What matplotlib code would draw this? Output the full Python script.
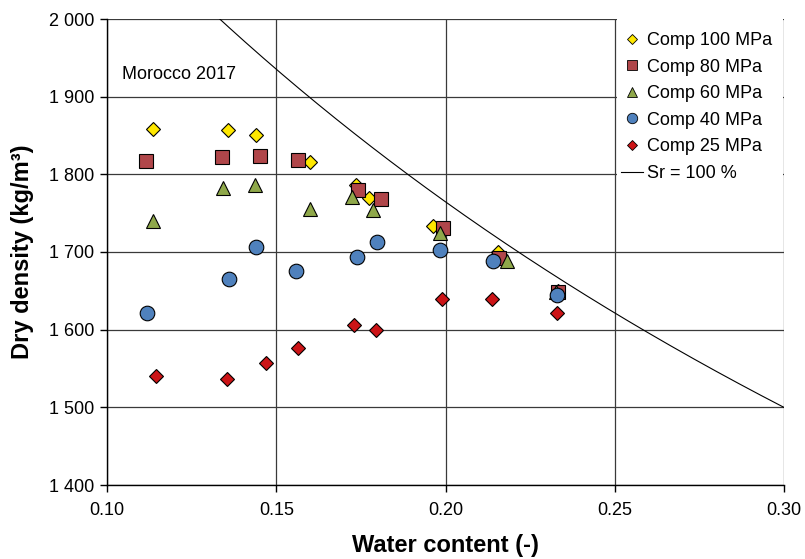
import matplotlib
matplotlib.use("Agg")
import matplotlib.pyplot as plt
from matplotlib.lines import Line2D
from matplotlib.patches import Rectangle
from matplotlib.ticker import FuncFormatter, FixedLocator
import numpy as np

plt.rcParams['font.family'] = ['Liberation Sans', 'DejaVu Sans']

# ---- data ----
w100 = [0.1137, 0.1357, 0.1440, 0.1601, 0.1737, 0.1773, 0.1964, 0.2155, 0.2331]
d100 = [1858, 1857, 1851, 1816, 1786, 1770, 1733, 1700, 1650]

w80 = [0.1114, 0.1341, 0.1453, 0.1564, 0.1742, 0.1808, 0.1992, 0.2158, 0.2331]
d80 = [1817, 1822, 1824, 1818, 1780, 1768, 1731, 1692, 1648]

w60 = [0.1135, 0.1343, 0.1438, 0.1599, 0.1724, 0.1785, 0.1983, 0.2183, 0.2325]
d60 = [1740, 1783, 1786, 1755, 1771, 1754, 1725, 1688, 1648]

w40 = [0.1118, 0.1361, 0.1439, 0.1558, 0.1739, 0.1797, 0.1983, 0.2140, 0.2330]
d40 = [1621, 1665, 1706, 1675, 1693, 1713, 1703, 1688, 1644]

w25 = [0.1144, 0.1354, 0.1470, 0.1564, 0.1731, 0.1796, 0.1990, 0.2138, 0.2330]
d25 = [1540, 1536, 1557, 1576, 1606, 1600, 1640, 1639, 1622]

rho_s = 2727.0   # particle density (kg/m3) for saturation line
rho_w = 1000.0

x_ticks = [0.10, 0.15, 0.20, 0.25, 0.30]
y_ticks = [1400, 1500, 1600, 1700, 1800, 1900, 2000]

series_labels = ["Comp 100 MPa", "Comp 80 MPa", "Comp 60 MPa", "Comp 40 MPa", "Comp 25 MPa"]
sr_label = "Sr = 100 %"

# ---- figure ----
W, H = 805, 559
fig = plt.figure(figsize=(W / 100, H / 100), dpi=100)
L, R, T, B = 107, 784, 19, 485
ax = fig.add_axes([L / W, (H - B) / H, (R - L) / W, (B - T) / H])

ax.set_xlim(0.10, 0.30)
ax.set_ylim(1400, 2000)
ax.xaxis.set_major_locator(FixedLocator(x_ticks))
ax.yaxis.set_major_locator(FixedLocator(y_ticks))
ax.xaxis.set_major_formatter(FuncFormatter(lambda v, p: f"{v:.2f}"))
ax.yaxis.set_major_formatter(FuncFormatter(lambda v, p: f"{int(round(v)):,}".replace(",", " ")))

ax.set_axisbelow(True)
ax.grid(True, color='#3a3a3a', linewidth=0.9, zorder=0)
for s in ['top', 'right']:
    ax.spines[s].set_visible(False)
for s in ['left', 'bottom']:
    ax.spines[s].set_color('black')
    ax.spines[s].set_linewidth(1.0)

ax.tick_params(axis='both', direction='out', length=5, width=1.0, labelsize=13, color='black')
ax.tick_params(axis='y', pad=4)
ax.tick_params(axis='x', pad=7)

# white area behind legend
ax.add_patch(Rectangle((0.7533, 0.60), 0.2452, 0.40, transform=ax.transAxes,
                       facecolor='white', edgecolor='none', zorder=1))

# saturation line
wl = np.linspace(0.10, 0.30, 300)
ax.plot(wl, rho_s / (1 + wl * rho_s / rho_w), color='black', linewidth=0.8, zorder=2)

mk = dict(linestyle='none', markeredgecolor='black', markeredgewidth=0.8, zorder=3)
ax.plot(w100, d100, marker='D', markersize=7.1, markerfacecolor='#FFE800', **mk)
ax.plot(w80, d80, marker='s', markersize=10.3, markerfacecolor='#B0464A', **mk)
ax.plot(w60, d60, marker='^', markersize=10, markerfacecolor='#8FA84A', **mk)
ax.plot(w40, d40, marker='o', markersize=10.5, markerfacecolor='#4F81BD', **mk)
ax.plot(w25, d25, marker='D', markersize=6.8, markerfacecolor='#CC1417', **mk)

ax.text(0.1045, 1928, "Morocco 2017", fontsize=13, ha='left', va='center', zorder=4)

ax.set_xlabel("Water content (-)", fontsize=17, fontweight='bold', labelpad=11)
ax.set_ylabel("Dry density (kg/m³)", fontsize=17, fontweight='bold', labelpad=11)

# legend
lk = dict(linestyle='none', markeredgecolor='black', markeredgewidth=0.6)
handles = [
    Line2D([], [], marker='D', markersize=5, markerfacecolor='#FFE800', **lk),
    Line2D([], [], marker='s', markersize=7, markerfacecolor='#B0464A', **lk),
    Line2D([], [], marker='^', markersize=7, markerfacecolor='#8FA84A', **lk),
    Line2D([], [], marker='o', markersize=7.5, markerfacecolor='#4F81BD', **lk),
    Line2D([], [], marker='D', markersize=5, markerfacecolor='#CC1417', **lk),
    Line2D([], [], color='black', linewidth=0.8),
]
leg = ax.legend(handles, series_labels + [sr_label], loc='upper left',
                bbox_to_anchor=((621 - L) / (R - L), (B - 32) / (B - T)),
                frameon=False, fontsize=13, handlelength=1.2, handletextpad=0.25,
                labelspacing=0.53, borderpad=0, borderaxespad=0)
leg.set_zorder(5)

fig.savefig("out.png", dpi=100)
